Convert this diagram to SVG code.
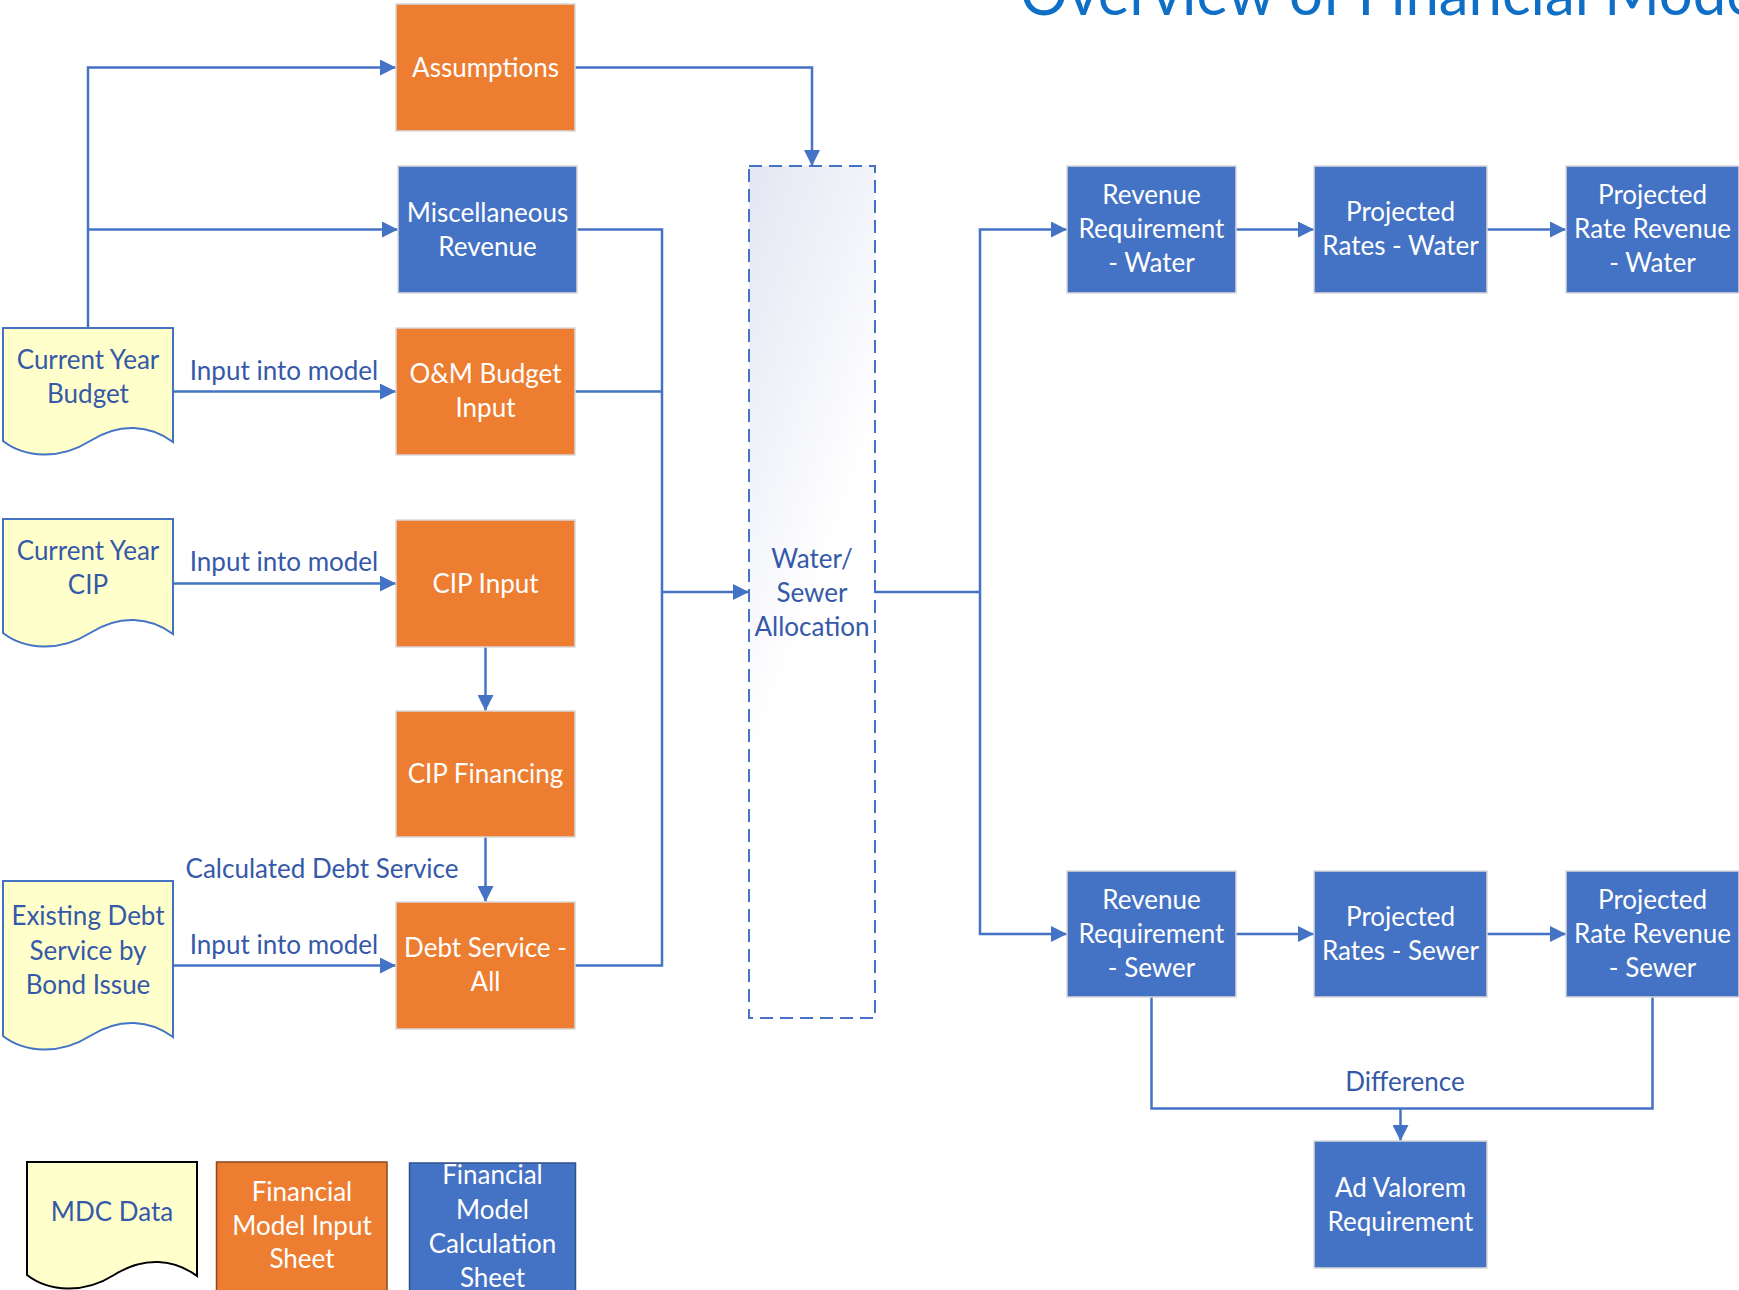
<svg xmlns="http://www.w3.org/2000/svg" width="1739" height="1290" viewBox="0 0 1739 1290">
<style>
text { font-family: Lato, "Open Sans", "Liberation Sans", sans-serif; font-size: 26px; text-anchor: middle; }
.w { fill: #FFFFFF; }
.b { fill: #3559A8; }
.or { fill: #ED7D31; stroke: #D9D9D9; stroke-width: 1.5; }
.bl { fill: #4472C4; stroke: #D9D9D9; stroke-width: 1.5; }
.doc { fill: #FFFFCC; stroke: #4472C4; stroke-width: 2; }
.conn { fill: none; stroke: #4472C4; stroke-width: 2.5; }
.arr { marker-end: url(#ah); }
.lbl { fill: #3559A8; font-size: 26px; }
.title { fill: #0F6FC6; font-size: 62px; text-anchor: start; }
</style>
<defs>
<marker id="ah" markerUnits="userSpaceOnUse" markerWidth="16" markerHeight="16" viewBox="0 0 16 16" refX="16" refY="8" orient="auto">
<path d="M0,0 L16,8 L0,16 Z" fill="#4472C4"/>
</marker>
<linearGradient id="alloc" x1="0" y1="0" x2="0.25" y2="0.62">
<stop offset="0" stop-color="#E3E6F3"/>
<stop offset="1" stop-color="#FFFFFF"/>
</linearGradient>
</defs>
<rect width="1739" height="1290" fill="#FFFFFF"/>

<text class="title" x="1020" y="15" textLength="752" lengthAdjust="spacingAndGlyphs">Overview of Financial Model</text>

<g id="connectors">
<path class="conn arr" d="M88,328 V67.5 H396"/>
<path class="conn arr" d="M88,229.5 H398"/>
<path class="conn arr" d="M173,391.5 H396"/>
<path class="conn arr" d="M173,583.5 H396"/>
<path class="conn arr" d="M173,965.5 H396"/>
<path class="conn arr" d="M485.5,647 V711"/>
<path class="conn arr" d="M485.5,837 V902"/>
<path class="conn arr" d="M575,67.5 H812 V166"/>
<path class="conn" d="M577,229.5 H662 V965.5 H575"/>
<path class="conn" d="M575,391.5 H662"/>
<path class="conn arr" d="M662,592 H749"/>
<path class="conn" d="M875,592 H980"/>
<path class="conn arr" d="M980,592 V229.5 H1067"/>
<path class="conn arr" d="M980,592 V934 H1067"/>
<path class="conn arr" d="M1236,229.5 H1314"/>
<path class="conn arr" d="M1487,229.5 H1566"/>
<path class="conn arr" d="M1236,934 H1314"/>
<path class="conn arr" d="M1487,934 H1566"/>
<path class="conn" d="M1151.5,997 V1108.5 H1652.5 V997"/>
<path class="conn arr" d="M1400.5,1108.5 V1141"/>
<text class="lbl" x="284" y="380">Input into model</text>
<text class="lbl" x="284" y="571">Input into model</text>
<text class="lbl" x="284" y="954">Input into model</text>
<text class="lbl" x="322" y="878">Calculated Debt Service</text>
<text class="lbl" x="1405" y="1091">Difference</text>
</g>

<g id="assumptions">
<rect class="or" x="396" y="4" width="179" height="127"/>
<text class="w" x="485.5" y="76.5">Assumptions</text>
</g>
<g id="misc-revenue">
<rect class="bl" x="398" y="166" width="179" height="127"/>
<text class="w" x="487.5" y="221.5">Miscellaneous</text>
<text class="w" x="487.5" y="255.5">Revenue</text>
</g>
<g id="om-budget">
<rect class="or" x="396" y="328" width="179" height="127"/>
<text class="w" x="485.5" y="383">O&amp;M Budget</text>
<text class="w" x="485.5" y="417">Input</text>
</g>
<g id="cip-input">
<rect class="or" x="396" y="520" width="179" height="127"/>
<text class="w" x="485.5" y="592.5">CIP Input</text>
</g>
<g id="cip-financing">
<rect class="or" x="396" y="711" width="179" height="126"/>
<text class="w" x="485.5" y="783">CIP Financing</text>
</g>
<g id="debt-service">
<rect class="or" x="396" y="902" width="179" height="127"/>
<text class="w" x="485.5" y="957">Debt Service -</text>
<text class="w" x="485.5" y="991">All</text>
</g>

<g id="current-year-budget">
<path class="doc" d="M3,328 H173 V442 C150,425 120,422 90,441 C60,460 25,458 3,441 Z"/>
<text class="b" x="88" y="369">Current Year</text>
<text class="b" x="88" y="403">Budget</text>
</g>
<g id="current-year-cip">
<path class="doc" d="M3,519 H173 V634 C150,617 120,614 90,633 C60,652 25,650 3,633 Z"/>
<text class="b" x="88" y="560">Current Year</text>
<text class="b" x="88" y="594">CIP</text>
</g>
<g id="existing-debt">
<path class="doc" d="M3,881 H173 V1037 C150,1020 120,1017 90,1036 C60,1055 25,1053 3,1036 Z"/>
<text class="b" x="88" y="925">Existing Debt</text>
<text class="b" x="88" y="960">Service by</text>
<text class="b" x="88" y="994">Bond Issue</text>
</g>

<g id="allocation">
<rect x="749" y="166" width="126" height="852" fill="url(#alloc)" stroke="#4472C4" stroke-width="2" stroke-dasharray="13 7"/>
<text class="b" x="812" y="568">Water/</text>
<text class="b" x="812" y="602">Sewer</text>
<text class="b" x="812" y="636">Allocation</text>
</g>

<g id="rev-req-water">
<rect class="bl" x="1067" y="166" width="169" height="127"/>
<text class="w" x="1151.5" y="204">Revenue</text>
<text class="w" x="1151.5" y="238">Requirement</text>
<text class="w" x="1151.5" y="272">- Water</text>
</g>
<g id="proj-rates-water">
<rect class="bl" x="1314" y="166" width="173" height="127"/>
<text class="w" x="1400.5" y="221">Projected</text>
<text class="w" x="1400.5" y="255">Rates - Water</text>
</g>
<g id="proj-rate-rev-water">
<rect class="bl" x="1566" y="166" width="173" height="127"/>
<text class="w" x="1652.5" y="204">Projected</text>
<text class="w" x="1652.5" y="238">Rate Revenue</text>
<text class="w" x="1652.5" y="272">- Water</text>
</g>
<g id="rev-req-sewer">
<rect class="bl" x="1067" y="871" width="169" height="126"/>
<text class="w" x="1151.5" y="908.5">Revenue</text>
<text class="w" x="1151.5" y="942.5">Requirement</text>
<text class="w" x="1151.5" y="976.5">- Sewer</text>
</g>
<g id="proj-rates-sewer">
<rect class="bl" x="1314" y="871" width="173" height="126"/>
<text class="w" x="1400.5" y="925.5">Projected</text>
<text class="w" x="1400.5" y="959.5">Rates - Sewer</text>
</g>
<g id="proj-rate-rev-sewer">
<rect class="bl" x="1566" y="871" width="173" height="126"/>
<text class="w" x="1652.5" y="908.5">Projected</text>
<text class="w" x="1652.5" y="942.5">Rate Revenue</text>
<text class="w" x="1652.5" y="976.5">- Sewer</text>
</g>
<g id="ad-valorem">
<rect class="bl" x="1314" y="1141" width="173" height="127"/>
<text class="w" x="1400.5" y="1196.5">Ad Valorem</text>
<text class="w" x="1400.5" y="1230.5">Requirement</text>
</g>

<g id="legend-mdc">
<path d="M27,1162 H197 V1276 C174,1259 144,1256 114,1275 C84,1294 49,1292 27,1275 Z" fill="#FFFFCC" stroke="#000000" stroke-width="2"/>
<text class="b" x="112" y="1221">MDC Data</text>
</g>
<g id="legend-input">
<rect x="216.5" y="1162" width="170.5" height="140" fill="#ED7D31" stroke="#8A4A1E" stroke-width="1.5"/>
<text class="w" x="302" y="1201">Financial</text>
<text class="w" x="302" y="1235">Model Input</text>
<text class="w" x="302" y="1268">Sheet</text>
</g>
<g id="legend-calc">
<rect x="409.5" y="1163" width="166" height="140" fill="#4472C4" stroke="#2F528F" stroke-width="1.5"/>
<text class="w" x="492.5" y="1184">Financial</text>
<text class="w" x="492.5" y="1219">Model</text>
<text class="w" x="492.5" y="1253">Calculation</text>
<text class="w" x="492.5" y="1287">Sheet</text>
</g>
</svg>
